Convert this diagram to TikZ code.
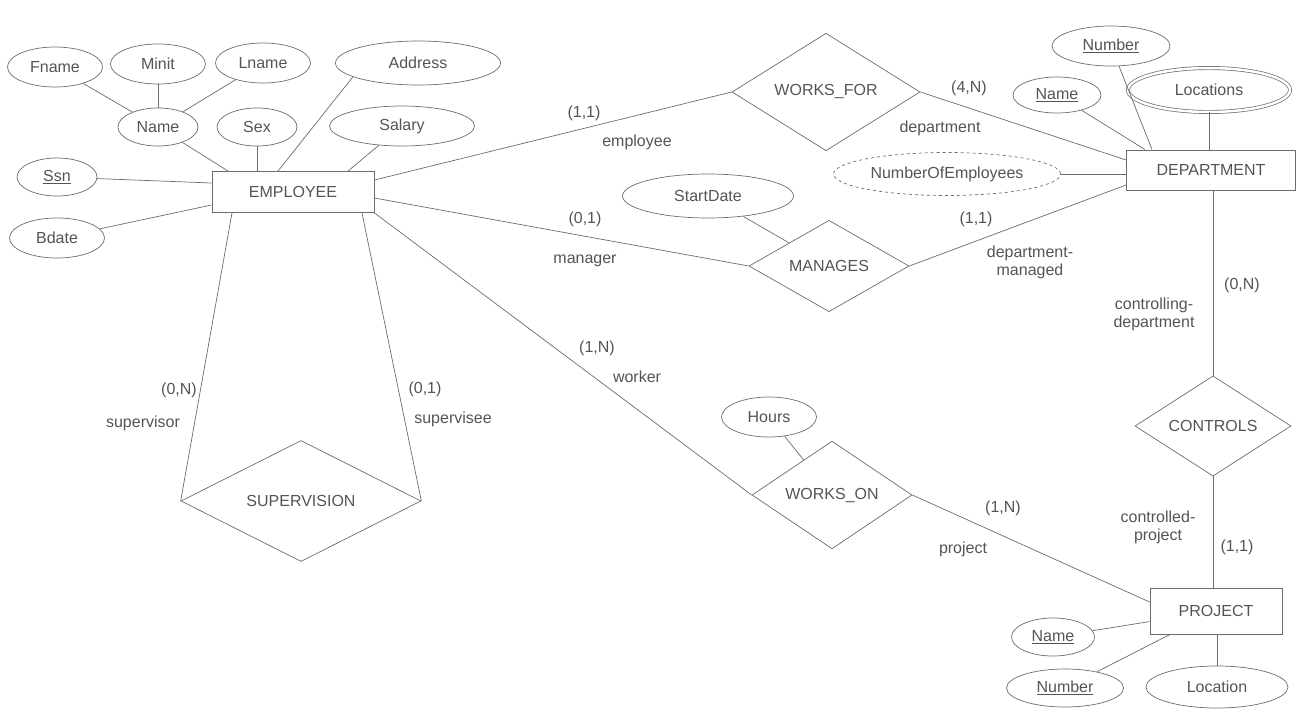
\documentclass[tikz,border=0pt]{standalone}
\usepackage{fontspec}
\setmainfont{Liberation Sans}
\usetikzlibrary{shapes.geometric}
\definecolor{ink}{gray}{0.33}
\definecolor{edge}{gray}{0.42}
\tikzset{
  ent/.style={draw=edge, rectangle, inner sep=0pt, line width=0.9pt},
  att/.style={draw=edge, ellipse, inner sep=0pt, minimum height=40pt},
  rel/.style={draw=edge, diamond, inner sep=0pt},
  lab/.style={inner sep=1pt, align=center},
  link/.style={draw=edge, line width=0.7pt}
}
\newcommand{\rolelab}[3]{\node[lab] (#1) at (#2) {#3};}

\begin{document}
\begin{tikzpicture}[x=1pt, y=-1pt, line width=0.7pt,
  every node/.style={font=\fontsize{16}{18}\selectfont, text=ink}]
\useasboundingbox (0,0) rectangle (1305,709);
% entities
\node[ent, minimum width=162pt, minimum height=41pt] (emp) at (293,192) {EMPLOYEE};
\node[ent, minimum width=169pt, minimum height=40pt] (dept) at (1211,170) {DEPARTMENT};
\node[ent, minimum width=132pt, minimum height=46pt] (prj) at (1216,611) {PROJECT};
% relationships
\node[rel, minimum width=188pt, minimum height=96pt] (wf) at (826,92) {WORKS\_FOR};
\node[rel, minimum width=160pt, minimum height=84pt] (man) at (829,266) {MANAGES};
\node[rel, minimum width=160pt, minimum height=82pt] (won) at (832,495) {WORKS\_ON};
\node[rel, minimum width=240pt, minimum height=121pt] (sup) at (301,501) {SUPERVISION};
\node[rel, minimum width=156pt, minimum height=82pt] (ctl) at (1213,426) {CONTROLS};
% EMPLOYEE attributes
\node[att, minimum width=95pt] (fname) at (55,67) {Fname};
\node[att, minimum width=95pt] (minit) at (158,64) {Minit};
\node[att, minimum width=95pt] (lname) at (263,63) {Lname};
\node[att, minimum width=165pt, minimum height=44pt] (addr) at (418,63) {Address};
\node[att, minimum width=80pt, minimum height=38pt] (name) at (158,127) {Name};
\node[att, minimum width=80pt, minimum height=38pt] (sex) at (257,127) {Sex};
\node[att, minimum width=145pt] (sal) at (402,126) {Salary};
\node[att, minimum width=80pt, minimum height=38pt] (ssn) at (57,177) {\underline{Ssn}};
\node[att, minimum width=95pt] (bdate) at (57,238) {Bdate};
% DEPARTMENT attributes
\node[att, minimum width=118pt] (dnum) at (1111,46) {\underline{Number}};
\node[att, minimum width=88pt, minimum height=36pt] (dname) at (1057,95) {\underline{Name}};
\node[att, double=white, double distance=2.5pt, minimum width=162pt, minimum height=44pt] (dloc) at (1209,90) {Locations};
\node[att, dashed, minimum width=227pt, minimum height=43pt] (noe) at (947,174) {NumberOfEmployees};
% relationship attributes
\node[att, minimum width=171pt, minimum height=44pt] (sdate) at (708,196) {StartDate};
\node[att, minimum width=95pt] (hours) at (769,417) {Hours};
% PROJECT attributes
\node[att, minimum width=83pt, minimum height=38pt] (pname) at (1053,637) {\underline{Name}};
\node[att, minimum width=117pt, minimum height=38pt] (pnum) at (1065,688) {\underline{Number}};
\node[att, minimum width=142pt, minimum height=42pt] (ploc) at (1217,687) {Location};

% attribute links
\draw[link] (fname) -- (name);
\draw[link] (minit) -- (name);
\draw[link] (lname) -- (name);
\draw[link] (name) -- ([xshift=-65pt]emp.north);
\draw[link] (sex) -- (sex |- emp.north);
\draw[link] (addr.192) -- ([xshift=-15pt]emp.north);
\draw[link] (sal) -- ([xshift=55pt]emp.north);
\draw[link] (ssn) -- ([yshift=9pt]emp.west);
\draw[link] (bdate) -- ([yshift=-13pt]emp.west);
\draw[link] (dnum) -- ([xshift=-59pt]dept.north);
\draw[link] (dname) -- ([xshift=-66pt]dept.north);
\draw[link] (dloc.south) -- (dloc.south |- dept.north);
\draw[link] (noe.east) -- (noe.east -| dept.west);
\draw[link] (sdate) -- (man);
\draw[link] (hours) -- (won);
\draw[link] (pname) -- (prj);
\draw[link] (pnum) -- (prj);
\draw[link] (ploc.north) -- (ploc.north |- prj.south);

% relationship links
\draw[link] ([yshift=12pt]emp.east) -- (wf.west);
\draw[link] (wf.east) -- ([yshift=10pt]dept.west);
\draw[link] ([yshift=-6pt]emp.east) -- (man.west);
\draw[link] (man.east) -- ([yshift=-15pt]dept.west);
\draw[link] (emp.south east) -- (won.west);
\draw[link] (won.east) -- ([yshift=9pt]prj.west);
\draw[link] ([xshift=-61pt]emp.south) -- (sup.west);
\draw[link] ([xshift=69pt]emp.south) -- (sup.east);
\draw[link] (ctl.north) -- (ctl.north |- dept.south);
\draw[link] (ctl.south) -- (ctl.south |- prj.north);

% cardinalities and roles
\rolelab{cwfe}{584,113}{(1,1)}
\rolelab{rwfe}{637,142}{employee}
\rolelab{cwfd}{969,88}{(4,N)}
\rolelab{rwfd}{940,128}{department}
\rolelab{cmane}{585,219}{(0,1)}
\rolelab{rmane}{585,261}{manager}
\rolelab{cmand}{976,219}{(1,1)}
\rolelab{rmand}{1030,262}{department-\\managed}
\rolelab{cctld}{1242,285}{(0,N)}
\rolelab{rctld}{1154,314}{controlling-\\department}
\rolelab{cctlp}{1237,547}{(1,1)}
\rolelab{rctlp}{1158,527}{controlled-\\project}
\rolelab{cwone}{597,348}{(1,N)}
\rolelab{rwone}{637,377}{worker}
\rolelab{cwonp}{1003,508}{(1,N)}
\rolelab{rwonp}{963,549}{project}
\rolelab{csupa}{179,390}{(0,N)}
\rolelab{rsupa}{143,423}{supervisor}
\rolelab{csupb}{425,389}{(0,1)}
\rolelab{rsupb}{453,419}{supervisee}
\end{tikzpicture}
\end{document}
